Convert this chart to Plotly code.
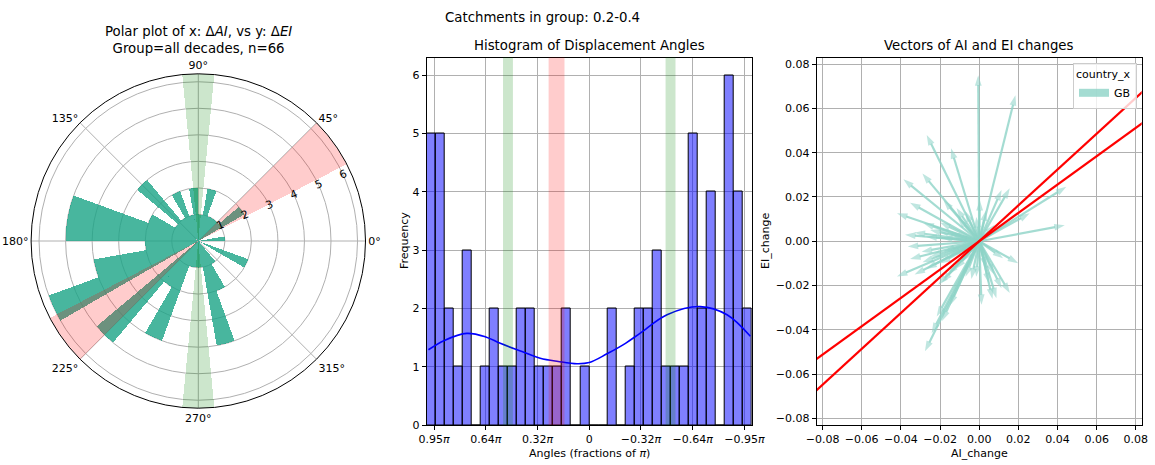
import numpy as np
import plotly.graph_objects as go

# ---------------- data ----------------
# polar histogram: counts per 10-degree sector, starting at 0 deg, counter-clockwise
polar_counts = [1, 0, 0, 2, 1, 1, 1, 2, 1, 2, 1, 2, 1, 3, 1, 2, 5, 5,
                2, 4, 6, 0, 5, 2, 4, 1, 1, 1, 4, 2, 1, 0, 0, 2, 0, 0]
# histogram of displacement angles: 36 bins from -pi to pi (ascending angle)
hist_counts = [2, 4, 6, 0, 4, 2, 5, 1, 1, 1, 3, 2, 2, 1, 0, 2, 0, 0,
               1, 0, 2, 1, 1, 1, 2, 2, 1, 1, 2, 1, 0, 3, 1, 2, 5, 5]
# KDE curve (angle in radians, scaled density)
kde_angle = [-3.114, -2.663, -2.147, -1.503, -0.986, -0.70, -0.342, 0.0, 0.238,
             0.60, 0.948, 1.30, 1.72, 2.00, 2.366, 2.80, 3.108]
kde_value = [1.52, 1.89, 2.03, 1.89, 1.575, 1.40, 1.22, 1.07, 1.05,
             1.09, 1.146, 1.26, 1.40, 1.51, 1.57, 1.45, 1.29]
# highlighted angular ranges (degrees)
red_band_deg = [27.4, 45.0]
green_band_deg = [84.5, 95.5]
# vectors (AI_change, EI_change)
ai_change = [-0.0005, 0.0185, -0.0268, -0.0144, -0.0290, -0.0387, -0.0353, -0.0420,
             0.0156, 0.0114, 0.0003, 0.0445, 0.0258, 0.0437, -0.0379, -0.0365,
             -0.0353, -0.0294, -0.0251, -0.0285, -0.0420, -0.0209, -0.0217, -0.0243,
             -0.0277, -0.0150, -0.0190, 0.0199, 0.0156, 0.0114, 0.0088, 0.0068,
             0.0012, 0.0122, 0.0080, 0.0035, -0.0015, -0.0070, -0.0116, -0.0183,
             -0.0110, -0.0200, -0.0210, -0.0150, -0.0330, -0.0270, -0.0190, -0.0120,
             -0.0250, -0.0180, -0.0290, -0.0330, -0.0270, -0.0200, -0.0150, -0.0100,
             -0.0160, -0.0120, -0.0085, -0.0190, -0.0070, -0.0040, -0.0015, 0.0050,
             0.0035, 0.0075]
ei_change = [0.0750, 0.0660, 0.0480, 0.0420, 0.0306, 0.0280, 0.0174, 0.0126,
             0.0239, 0.0231, 0.0186, 0.0246, 0.0126, 0.0072, 0.0029, -0.0024,
             -0.0080, -0.0047, 0.0051, 0.0081, -0.0159, -0.0197, -0.0340, -0.0415,
             -0.0497, -0.0290, -0.0360, -0.0099, -0.0234, -0.0212, -0.0257, -0.0261,
             -0.0287, -0.0077, 0.0075, 0.0140, 0.0110, 0.0135, 0.0150, 0.0186,
             0.0105, 0.0085, 0.0050, 0.0035, 0.0040, 0.0020, 0.0015, 0.0012,
             -0.0070, -0.0045, -0.0095, -0.0150, -0.0125, -0.0100, -0.0065, -0.0048,
             -0.0150, -0.0125, -0.0090, -0.0185, -0.0160, -0.0170, -0.0160, -0.0190,
             -0.0120, -0.0150]
fit_slopes = [0.81, 0.64]
country = "GB"

# ---------------- styling ----------------
FONT = "DejaVu Sans"
GRID = "#b0b0b0"
TEAL_BAR = "rgba(26,164,134,0.8)"
ARROW = "rgba(141,211,199,0.8)"
W, H = 1155, 465


def px_x(p):
    return p / W


def px_y(p):
    return 1 - p / H


fig = go.Figure()

# ---------------- polar ----------------
sector_edges = np.linspace(0, 360, len(polar_counts) + 1)
sector_centers = (sector_edges[:-1] + sector_edges[1:]) / 2
sector_width = sector_edges[1] - sector_edges[0]
r_max = max(polar_counts) * 1.05

fig.add_trace(go.Barpolar(theta=sector_centers, r=polar_counts, width=sector_width,
                          marker=dict(color=TEAL_BAR, line=dict(width=0)),
                          showlegend=False, hoverinfo="skip"))
g_c = (green_band_deg[0] + green_band_deg[1]) / 2
g_w = green_band_deg[1] - green_band_deg[0]
r_c = (red_band_deg[0] + red_band_deg[1]) / 2
r_w = red_band_deg[1] - red_band_deg[0]
fig.add_trace(go.Barpolar(theta=[g_c, g_c + 180], r=[r_max, r_max], width=[g_w, g_w],
                          marker=dict(color="rgba(0,128,0,0.2)", line=dict(width=0)),
                          showlegend=False, hoverinfo="skip"))
fig.add_trace(go.Barpolar(theta=[r_c, r_c + 180], r=[r_max, r_max], width=[r_w, r_w],
                          marker=dict(color="rgba(255,0,0,0.2)", line=dict(width=0)),
                          showlegend=False, hoverinfo="skip"))

# ---------------- histogram ----------------
bin_edges = np.linspace(-np.pi, np.pi, len(hist_counts) + 1)
bin_centers = (bin_edges[:-1] + bin_edges[1:]) / 2
bin_w = bin_edges[1] - bin_edges[0]
fig.add_trace(go.Bar(x=bin_centers, y=hist_counts, width=bin_w,
                     marker=dict(color="rgba(0,0,255,0.5)", line=dict(color="black", width=1)),
                     xaxis="x", yaxis="y", showlegend=False, hoverinfo="skip"))
fig.add_trace(go.Scatter(x=kde_angle, y=kde_value, mode="lines",
                         line=dict(color="blue", width=1.6, shape="spline", smoothing=1.0),
                         xaxis="x", yaxis="y", showlegend=False, hoverinfo="skip"))

shapes = []
for lo, hi, col in [(red_band_deg[0], red_band_deg[1], "rgba(255,0,0,0.2)"),
                    (green_band_deg[0], green_band_deg[1], "rgba(0,128,0,0.2)"),
                    (-green_band_deg[1], -green_band_deg[0], "rgba(0,128,0,0.2)")]:
    shapes.append(dict(type="rect", xref="x", yref="y domain",
                       x0=np.deg2rad(lo), x1=np.deg2rad(hi), y0=0, y1=1,
                       fillcolor=col, line=dict(width=0), layer="above"))

# ---------------- vectors ----------------
xs, ys, sizes = [], [], []
for a, e in zip(ai_change, ei_change):
    xs += [0, a, None]
    ys += [0, e, None]
    sizes += [0, 11, 0]
fig.add_trace(go.Scatter(x=xs, y=ys, mode="lines+markers",
                         line=dict(color=ARROW, width=2.2),
                         marker=dict(symbol="arrow", angleref="previous", size=sizes,
                                     color=ARROW, line=dict(width=0)),
                         xaxis="x2", yaxis="y2", showlegend=False, hoverinfo="skip"))
vx_range = [-0.083, 0.083]
for s in fit_slopes:
    fig.add_trace(go.Scatter(x=[vx_range[0] * 1.1, vx_range[1] * 1.1],
                             y=[s * vx_range[0] * 1.1, s * vx_range[1] * 1.1],
                             mode="lines", line=dict(color="red", width=2.2),
                             xaxis="x2", yaxis="y2", showlegend=False, hoverinfo="skip"))
fig.add_trace(go.Scatter(x=[None], y=[None], mode="lines", name=country,
                         line=dict(color=ARROW, width=8), xaxis="x2", yaxis="y2",
                         showlegend=True))

# ---------------- layout ----------------
common_axis = dict(showline=True, mirror=True, linecolor="black", linewidth=1,
                   ticks="outside", ticklen=4, tickwidth=1, tickcolor="black",
                   showgrid=True, gridcolor=GRID, gridwidth=0.9, zeroline=False,
                   tickfont=dict(size=11, color="black"))

tick_rad = [-3, -2, -1, 0, 1, 2, 3]
tick_txt = []
for t in tick_rad:
    f = t / np.pi
    if t == 0:
        tick_txt.append("0")
    else:
        tick_txt.append(("−" if f < 0 else "") + f"{abs(f):.2f}<i>π</i>")

plot_top, plot_bot = 57.5, 425.0
cx, cy, rad = 198.3, 241.0, 167.2

fig.update_layout(
    width=W, height=H, autosize=False, margin=dict(l=0, r=0, t=0, b=0),
    template="none", paper_bgcolor="white", plot_bgcolor="white",
    font=dict(family=FONT, size=11, color="black"),
    bargap=0, barmode="overlay",
    polar=dict(
        domain=dict(x=[px_x(cx - rad), px_x(cx + rad)], y=[px_y(cy + rad), px_y(cy - rad)]),
        bgcolor="white", barmode="overlay",
        angularaxis=dict(rotation=0, direction="counterclockwise",
                         tickvals=[0, 45, 90, 135, 180, 225, 270, 315],
                         ticktext=[f"{v}°" for v in [0, 45, 90, 135, 180, 225, 270, 315]],
                         showline=True, linecolor="black", linewidth=1,
                         showgrid=True, gridcolor=GRID, gridwidth=0.9, ticks="",
                         tickfont=dict(size=11), layer="above traces"),
        radialaxis=dict(range=[0, r_max], tickvals=[1, 2, 3, 4, 5, 6], showline=False,
                        angle=22.5, side="counterclockwise", tickangle=0, ticks="",
                        showgrid=True, gridcolor=GRID,
                        gridwidth=0.9, tickfont=dict(size=11), layer="above traces"),
    ),
    xaxis=dict(domain=[px_x(426.7), px_x(751.8)], anchor="y", range=[np.pi, -np.pi],
               tickvals=tick_rad, ticktext=tick_txt, **common_axis),
    yaxis=dict(domain=[px_y(plot_bot), px_y(plot_top)], anchor="x", range=[0, r_max],
               tickvals=[0, 1, 2, 3, 4, 5, 6], **common_axis),
    xaxis2=dict(domain=[px_x(816.7), px_x(1141.7)], anchor="y2", range=vx_range,
                tickvals=[-0.08, -0.06, -0.04, -0.02, 0, 0.02, 0.04, 0.06, 0.08],
                tickformat=".2f", **common_axis),
    yaxis2=dict(domain=[px_y(plot_bot), px_y(plot_top)], anchor="x2", range=vx_range,
                tickvals=[-0.08, -0.06, -0.04, -0.02, 0, 0.02, 0.04, 0.06, 0.08],
                tickformat=".2f", **common_axis),
    legend=dict(x=px_x(1137), y=px_y(63), xanchor="right", yanchor="top",
                bgcolor="rgba(255,255,255,0.8)", bordercolor="#cccccc", borderwidth=1,
                title=dict(text="country_x", font=dict(size=11), side="top"),
                font=dict(size=11), itemwidth=30, tracegroupgap=0),
    shapes=shapes,
)

TITLE = 13.3
ann = [
    dict(text="Catchments in group: 0.2-0.4", x=px_x(542), y=px_y(17), size=TITLE),
    dict(text="Polar plot of x: Δ<i>AI</i>, vs y: Δ<i>EI</i><br>Group=all decades, n=66",
         x=px_x(cx), y=px_y(40), size=TITLE),
    dict(text="Histogram of Displacement Angles", x=px_x(589), y=px_y(46), size=TITLE),
    dict(text="Vectors of AI and EI changes", x=px_x(979), y=px_y(46), size=TITLE),
    dict(text="Angles (fractions of <i>π</i>)", x=px_x(589), y=px_y(453), size=11),
    dict(text="AI_change", x=px_x(979), y=px_y(453), size=11),
]
annotations = []
for a in ann:
    annotations.append(dict(text=a["text"], x=a["x"], y=a["y"], xref="paper", yref="paper",
                            xanchor="center", yanchor="middle", showarrow=False,
                            font=dict(size=a["size"], family=FONT, color="black")))
annotations.append(dict(text="Frequency", x=px_x(404), y=px_y(241), xref="paper", yref="paper",
                        textangle=-90, showarrow=False, xanchor="center", yanchor="middle",
                        font=dict(size=11, family=FONT, color="black")))
annotations.append(dict(text="EI_change", x=px_x(765), y=px_y(241), xref="paper", yref="paper",
                        textangle=-90, showarrow=False, xanchor="center", yanchor="middle",
                        font=dict(size=11, family=FONT, color="black")))
fig.update_layout(annotations=annotations)

fig.write_html("out.html")
